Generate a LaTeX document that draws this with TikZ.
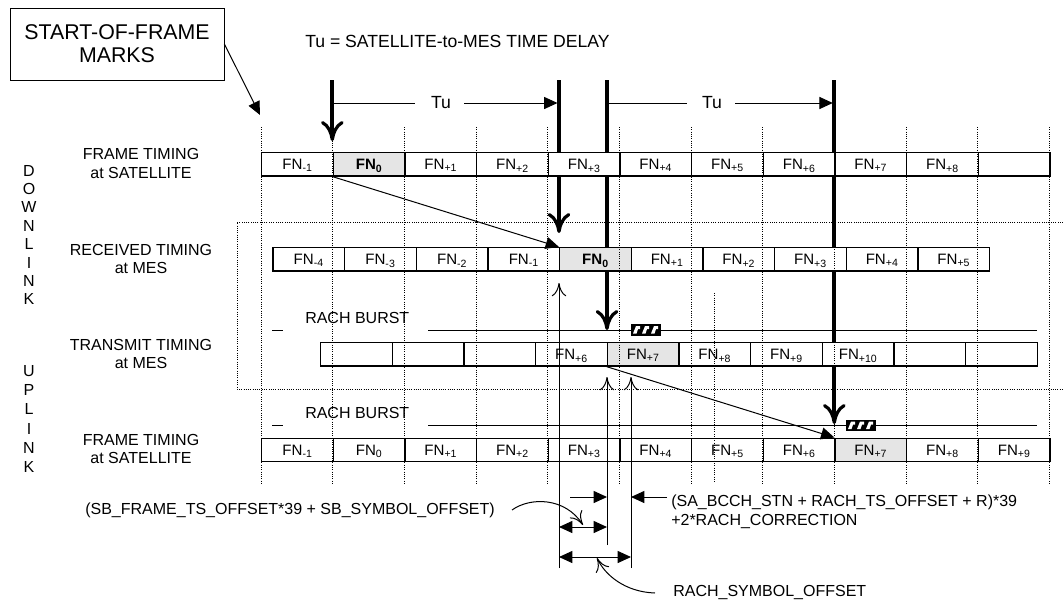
\documentclass[tikz,border=0pt]{standalone}
\usepackage{fontspec}
\setmainfont{Liberation Sans}
\usetikzlibrary{arrows.meta}
\newcommand\fnl[1]{FN\textsubscript{#1}}
\tikzset{
  cell/.style={draw, line width=1pt, fill=white, minimum width=53.75pt, minimum height=17.5pt, inner sep=0pt, anchor=north west, font=\fontsize{11.3}{13}\selectfont, text height=10pt, text depth=2pt},
  hl/.style={fill=black!10},
  nohl/.style={},
  lab/.style={font=\fontsize{12}{14}\selectfont, align=center, inner sep=0pt},
  txt/.style={font=\fontsize{12}{14}\selectfont, inner sep=0pt},
  bigtxt/.style={font=\fontsize{13.2}{15}\selectfont, inner sep=0pt},
  bigarrow/.style={line width=3pt, -{Computer Modern Rightarrow[length=15pt,width=17pt,line width=2.4pt]}},
  tri/.style={line width=0.75pt, -{Triangle[length=10pt,width=9pt]}},
  dtri/.style={line width=0.75pt, {Triangle[length=10pt,width=9pt]}-{Triangle[length=10pt,width=9pt]}},
  thinline/.style={line width=0.75pt},
  guide/.style={densely dotted, line width=0.7pt},
  uparr/.style={line width=0.75pt, -{Computer Modern Rightarrow[length=10pt,width=11pt]}},
  burst/.pic={
    \fill[black] (0,0) rectangle (30,11.5);
    \foreach \k in {0,1,2}{
      \fill[white] ({2+9*\k},9.5) -- ({5+9*\k},2) -- ({9+9*\k},2) -- ({9+9*\k},5) -- ({7+9*\k},5) -- ({5.5+9*\k},9.5) -- cycle;
    }
  }
}
\begin{document}
\begin{tikzpicture}[x=0.75pt,y=-0.75pt]
\fill[white] (0,0) rectangle (1063,604);
\useasboundingbox (0,0) rectangle (1063,604);

% MES region (dotted)
\draw[guide] (1063,222) -- (237,222) -- (237,389) -- (1063,389);

% start-of-frame marks (thick)
\coordinate (tA) at (332.3,80);
\coordinate (tB) at (559,80);
\coordinate (tC) at (607,80);
\coordinate (tD) at (834.3,80);
\coordinate (eA) at (332.3,141);
\coordinate (eB) at (559,233);
\coordinate (eC) at (607,330);
\coordinate (eD) at (834.3,424);
\draw[bigarrow] (tA) -- (eA);
\draw[bigarrow] (tB) -- (eB);
\draw[bigarrow] (tC) -- (eC);
\draw[bigarrow] (tD) -- (eD);

% Tu arrows
\node[bigtxt] (tu1) at (441,103) {Tu};
\node[bigtxt] (tu2) at (712,103) {Tu};
\coordinate (tua) at (333.8,103);
\coordinate (tub) at (557.5,103);
\coordinate (tuc) at (608.5,103);
\coordinate (tud) at (832.8,103);
\draw[thinline] (tua) -- (415,103);
\draw[tri] (464,103) -- (tub);
\draw[thinline] (tuc) -- (687,103);
\draw[tri] (735,103) -- (tud);

% RACH burst lines
\draw[thinline] (272,330) -- (283,330);
\draw[thinline] (428,330) -- (1037,330);
\draw[thinline] (272,425) -- (283,425);
\draw[thinline] (428,425) -- (1037,425);
\pic at (631,324) {burst};
\pic at (846,419.5) {burst};
\node[txt, anchor=west] (rb1) at (305,318) {RACH BURST};
\node[txt, anchor=west] (rb2) at (305,413) {RACH BURST};

% Row 1: frame timing at satellite
\foreach \l/\s [count=\i from 0] in {{\fnl{-1}}/nohl,{\textbf{\fnl{0}}}/hl,{\fnl{+1}}/nohl,{\fnl{+2}}/nohl,{\fnl{+3}}/nohl,{\fnl{+4}}/nohl,{\fnl{+5}}/nohl,{\fnl{+6}}/nohl,{\fnl{+7}}/nohl,{\fnl{+8}}/nohl,{}/nohl}
  \node[cell,\s] (r1c\i) at ({261+\i*71.67},152) {\l};
% Row 2: received timing at MES
\foreach \l/\s [count=\i from 0] in {{\fnl{-4}}/nohl,{\fnl{-3}}/nohl,{\fnl{-2}}/nohl,{\fnl{-1}}/nohl,{\textbf{\fnl{0}}}/hl,{\fnl{+1}}/nohl,{\fnl{+2}}/nohl,{\fnl{+3}}/nohl,{\fnl{+4}}/nohl,{\fnl{+5}}/nohl}
  \node[cell,\s] (r2c\i) at ({272.3+\i*71.67},247) {\l};
% Row 3: transmit timing at MES
\foreach \l/\s [count=\i from 0] in {{}/nohl,{}/nohl,{}/nohl,{\fnl{+6}}/nohl,{\fnl{+7}}/hl,{\fnl{+8}}/nohl,{\fnl{+9}}/nohl,{\fnl{+10}}/nohl,{}/nohl,{}/nohl}
  \node[cell,\s] (r3c\i) at ({320+\i*71.67},342) {\l};
% Row 4: frame timing at satellite (uplink)
\foreach \l/\s [count=\i from 0] in {{\fnl{-1}}/nohl,{\fnl{0}}/nohl,{\fnl{+1}}/nohl,{\fnl{+2}}/nohl,{\fnl{+3}}/nohl,{\fnl{+4}}/nohl,{\fnl{+5}}/nohl,{\fnl{+6}}/nohl,{\fnl{+7}}/hl,{\fnl{+8}}/nohl,{\fnl{+9}}/nohl}
  \node[cell,\s] (r4c\i) at ({261+\i*71.67},437.5) {\l};

% dotted guide lines
\foreach \i in {0,...,11}
  \draw[guide] ({261+\i*71.67},127) -- ({261+\i*71.67},483);
\draw[guide] (714.3,293) -- (714.3,483);

% propagation arrows
\draw[tri] (r1c1.south west) -- (r2c4.north west);
\draw[tri] (r3c4.south west) -- (r4c8.north west);

% thin reference lines
\coordinate (v1t) at (559,283);
\coordinate (v1b) at (559,568);
\coordinate (v2t) at (607,377);
\coordinate (v2b) at (607,545);
\coordinate (v3t) at (631,377);
\coordinate (v3b) at (631,568);
\draw[uparr] (v1b) -- (v1t);
\draw[uparr] (v2b) -- (v2t);
\draw[uparr] (v3b) -- (v3t);

% dimension arrows
\coordinate (d1s) at (570,497);
\coordinate (d1e) at (607,497);
\coordinate (d2s) at (667,497);
\coordinate (d2e) at (631,497);
\coordinate (d3s) at (559,527);
\coordinate (d3e) at (607,527);
\coordinate (d4s) at (559,557);
\coordinate (d4e) at (631,557);
\draw[tri] (d1s) -- (d1e);
\draw[tri] (d2s) -- (d2e);
\draw[dtri] (d3s) -- (d3e);
\draw[dtri] (d4s) -- (d4e);

% texts
\node[draw, line width=0.6pt, minimum width=160.5pt, minimum height=54pt, align=center, inner sep=0pt,
      font=\fontsize{16}{17.3}\selectfont] (sof) at (117,44) {START-OF-FRAME\\MARKS};
\coordinate (sofend) at (260,115);
\draw[tri] (sof.east) -- (sofend);

\node[bigtxt, anchor=west] (tudef) at (305,41) {Tu = SATELLITE-to-MES TIME DELAY};

\node[lab] (l1) at (141,163.5) {FRAME TIMING\\at SATELLITE};
\node[lab] (l2) at (141,259) {RECEIVED TIMING\\at MES};
\node[lab] (l3) at (141,354) {TRANSMIT TIMING\\at MES};
\node[lab] (l4) at (141,449) {FRAME TIMING\\at SATELLITE};

\node[font=\fontsize{12}{13.8}\selectfont, align=center, inner sep=0pt] (down) at (29,235) {D\\O\\W\\N\\L\\I\\N\\K};
\node[font=\fontsize{12}{14.3}\selectfont, align=center, inner sep=0pt] (up) at (29,419) {U\\P\\L\\I\\N\\K};

\node[txt, anchor=east] (sbtxt) at (495,510) {(SB\_FRAME\_TS\_OFFSET*39 + SB\_SYMBOL\_OFFSET)};
\node[txt, anchor=west, align=left, font=\fontsize{12}{13.9}\selectfont] (satxt) at (671,512) {(SA\_BCCH\_STN + RACH\_TS\_OFFSET + R)*39\\+2*RACH\_CORRECTION};
\node[txt, anchor=west] (rstxt) at (673,592) {RACH\_SYMBOL\_OFFSET};

\coordinate (c1e) at (583,525);
\coordinate (c2e) at (597,558);
\draw[uparr] (sbtxt.east) ++(17,0) .. controls (530,497) and (565,497) .. (c1e);
\draw[uparr] (655,593) .. controls (625,592) and (605,575) .. (c2e);
\end{tikzpicture}
\end{document}
